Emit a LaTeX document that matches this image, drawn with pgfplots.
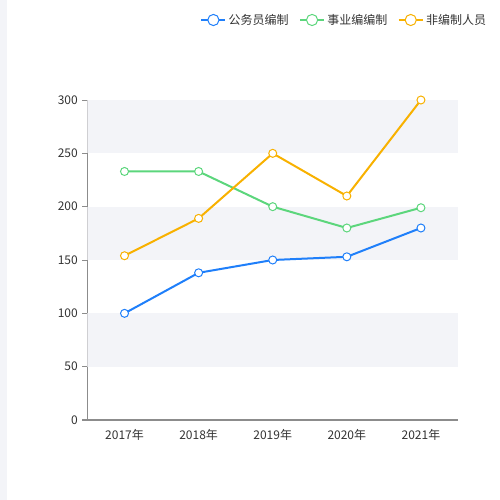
\documentclass[border=0pt]{standalone}
\usepackage{fontspec}
\setmainfont{Noto Sans CJK SC}
\usepackage{pgfplots}
\pgfplotsset{compat=1.18}
\definecolor{cA}{HTML}{1F7FFA}
\definecolor{cB}{HTML}{5CD67C}
\definecolor{cC}{HTML}{F8B100}
\definecolor{band}{HTML}{F3F4F8}
\definecolor{axisgray}{HTML}{8C8C8C}
\definecolor{txt}{HTML}{333333}
\begin{document}
\begin{tikzpicture}
\useasboundingbox (0,0) rectangle (375pt,375pt);
\fill[band] (0,0) rectangle (5.5pt,375pt);
\begin{axis}[
    at={(65.6pt,60pt)}, anchor=south west,
    scale only axis,
    width=277.9pt, height=240pt,
    xmin=-0.5, xmax=4.5, ymin=0, ymax=300,
    xtick={0,1,2,3,4},
    xticklabels={2017年,2018年,2019年,2020年,2021年},
    ytick={0,50,100,150,200,250,300},
    axis x line*=bottom, axis y line*=left,
    axis line style={axisgray, line width=0.75pt},
    x tick style={draw=none},
    y tick style={axisgray, line width=0.75pt},
    tick align=outside, major tick length=3.75pt,
    /pgf/number format/assume math mode=true,
    tick label style={font=\fontsize{9pt}{10pt}\selectfont, text=txt},
    every axis plot/.append style={line width=1.5pt, mark=*, mark size=3pt,
        mark options={fill=white, line width=0.75pt}},
    legend columns=3,
    legend style={draw=none, fill=none, at={(1.0945,1.25)}, anchor=east,
        font=\fontsize{9pt}{10pt}\selectfont, text=txt,
        /tikz/every even column/.append style={column sep=6pt}},
    legend image code/.code={\draw[#1, line width=1pt, mark size=4.2pt, mark repeat=2, mark phase=2]
        plot coordinates {(0pt,0pt)(9pt,0pt)(18pt,0pt)};},
]
\fill[band] (axis cs:-0.5,50) rectangle (axis cs:4.5,100);
\fill[band] (axis cs:-0.5,150) rectangle (axis cs:4.5,200);
\fill[band] (axis cs:-0.5,250) rectangle (axis cs:4.5,300);
\addplot[cA] coordinates {(0,100)(1,138)(2,150)(3,153)(4,180)};
\addplot[cB] coordinates {(0,233)(1,233)(2,200)(3,180)(4,199)};
\addplot[cC] coordinates {(0,154)(1,189)(2,250)(3,210)(4,300)};
\legend{公务员编制,事业编编制,非编制人员}
\end{axis}
\end{tikzpicture}
\end{document}
